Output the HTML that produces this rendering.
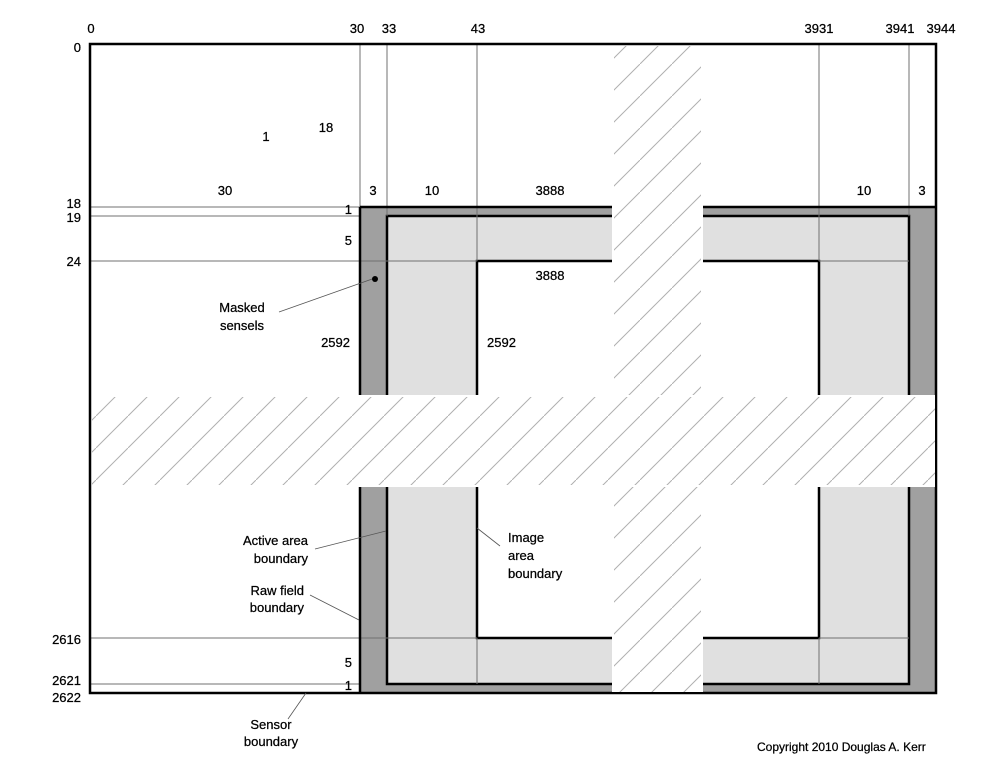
<!DOCTYPE html>
<html><head><meta charset="utf-8"><style>
html,body{margin:0;padding:0;background:#fff}
svg{display:block}
text{font-family:"Liberation Sans",sans-serif;font-size:13px;fill:#000;stroke:#000;stroke-width:0.25}
</style></head><body>
<svg width="991" height="766" viewBox="0 0 991 766" xmlns="http://www.w3.org/2000/svg">
<defs>
<pattern id="h" patternUnits="userSpaceOnUse" width="32" height="32">
<line x1="-4" y1="36" x2="36" y2="-4" stroke="#b0b0b0" stroke-width="1"/>
</pattern>
</defs>
<rect x="360" y="207" width="576" height="486" fill="#a0a0a0"/>
<rect x="387" y="216" width="522" height="468" fill="#e0e0e0"/>
<rect x="477" y="261" width="342" height="377" fill="#fff" stroke="#000" stroke-width="2.5"/>
<rect x="387" y="216" width="522" height="468" fill="none" stroke="#000" stroke-width="2.5"/>
<g stroke="#707070" stroke-width="1">
<line x1="360" y1="44" x2="360" y2="207"/>
<line x1="387" y1="44" x2="387" y2="216"/>
<line x1="477" y1="44" x2="477" y2="261"/>
<line x1="819" y1="44" x2="819" y2="261"/>
<line x1="909" y1="44" x2="909" y2="216"/>
<line x1="90" y1="207" x2="360" y2="207"/>
<line x1="90" y1="216" x2="360" y2="216"/>
<line x1="90" y1="261" x2="477" y2="261"/>
<line x1="819" y1="261" x2="909" y2="261"/>
<line x1="90" y1="638" x2="477" y2="638"/>
<line x1="819" y1="638" x2="909" y2="638"/>
<line x1="90" y1="684" x2="360" y2="684"/>
<line x1="477" y1="638" x2="477" y2="684"/>
<line x1="819" y1="638" x2="819" y2="684"/>
</g>
<line x1="360" y1="207" x2="936" y2="207" stroke="#000" stroke-width="2.5"/>
<line x1="360" y1="207" x2="360" y2="693" stroke="#000" stroke-width="2.5"/>
<rect x="90" y="44" width="846" height="649" fill="none" stroke="#000" stroke-width="2.5"/>
<rect x="92" y="395" width="843" height="92" fill="#fff"/>
<rect x="612" y="46" width="91" height="646" fill="#fff"/>
<rect x="92" y="397" width="843" height="88" fill="url(#h)"/>
<rect x="614" y="46" width="87" height="349" fill="url(#h)"/>
<rect x="614" y="487" width="87" height="205" fill="url(#h)"/>
<g stroke="#555" stroke-width="0.8" fill="none">
<line x1="375" y1="278" x2="279" y2="312"/>
<line x1="386" y1="531" x2="315" y2="549"/>
<line x1="359" y1="620" x2="310" y2="595"/>
<line x1="477" y1="528" x2="500" y2="546"/>
<line x1="306" y1="693" x2="288" y2="719"/>
</g>
<circle cx="375" cy="279" r="3" fill="#000"/>
<text x="91" y="33" text-anchor="middle">0</text>
<text x="357" y="33" text-anchor="middle">30</text>
<text x="389" y="33" text-anchor="middle">33</text>
<text x="478" y="33" text-anchor="middle">43</text>
<text x="819" y="33" text-anchor="middle">3931</text>
<text x="900" y="33" text-anchor="middle">3941</text>
<text x="941" y="33" text-anchor="middle">3944</text>
<text x="81" y="52" text-anchor="end">0</text>
<text x="81" y="208" text-anchor="end">18</text>
<text x="81" y="222" text-anchor="end">19</text>
<text x="81" y="266" text-anchor="end">24</text>
<text x="81" y="644" text-anchor="end">2616</text>
<text x="81" y="685" text-anchor="end">2621</text>
<text x="81" y="702" text-anchor="end">2622</text>
<text x="266" y="141" text-anchor="middle">1</text>
<text x="326" y="132" text-anchor="middle">18</text>
<text x="225" y="195" text-anchor="middle">30</text>
<text x="373" y="195" text-anchor="middle">3</text>
<text x="432" y="195" text-anchor="middle">10</text>
<text x="550" y="195" text-anchor="middle">3888</text>
<text x="864" y="195" text-anchor="middle">10</text>
<text x="922" y="195" text-anchor="middle">3</text>
<text x="352" y="214" text-anchor="end">1</text>
<text x="352" y="245" text-anchor="end">5</text>
<text x="550" y="280" text-anchor="middle">3888</text>
<text x="350" y="347" text-anchor="end">2592</text>
<text x="487" y="347">2592</text>
<text x="352" y="667" text-anchor="end">5</text>
<text x="352" y="690" text-anchor="end">1</text>
<text x="242" y="312" text-anchor="middle">Masked</text>
<text x="242" y="330" text-anchor="middle">sensels</text>
<text x="308" y="545" text-anchor="end">Active area</text>
<text x="308" y="563" text-anchor="end">boundary</text>
<text x="304" y="595" text-anchor="end">Raw field</text>
<text x="304" y="612" text-anchor="end">boundary</text>
<text x="508" y="542">Image</text>
<text x="508" y="560">area</text>
<text x="508" y="578">boundary</text>
<text x="271" y="729" text-anchor="middle">Sensor</text>
<text x="271" y="746" text-anchor="middle">boundary</text>
<text x="757" y="751" style="font-size:12px">Copyright 2010 Douglas A. Kerr</text>
</svg>
</body></html>
